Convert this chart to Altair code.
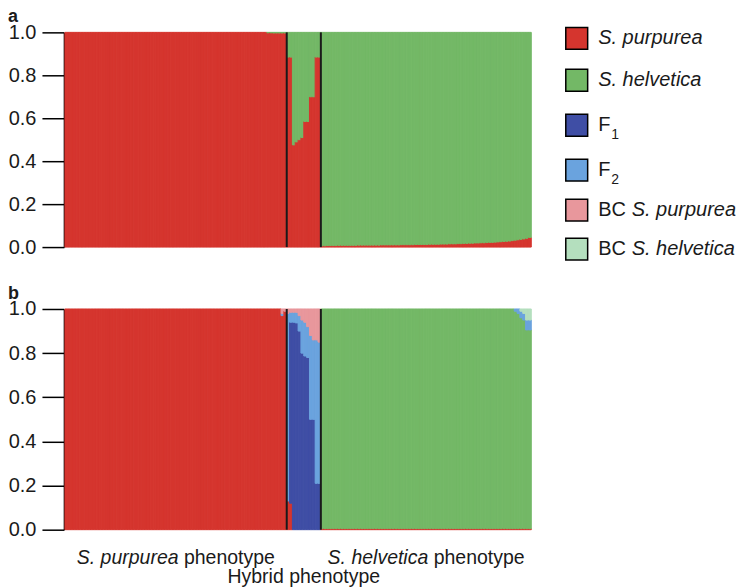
import altair as alt
import pandas as pd

# ---------------- data ----------------
categories = ["S. purpurea", "S. helvetica", "F1", "F2", "BC S. purpurea", "BC S. helvetica"]
colors = ["#D5352E", "#73B866", "#3F4EA5", "#6AA3DE", "#E8979C", "#B4DFBE"]

n_left, n_hybrid, n_right = 78, 12, 74
group_bounds = [78, 90]

# Panel a: proportion S. purpurea ancestry (rest is S. helvetica)
a_left_purpurea = [
    1.0, 1.0, 1.0, 1.0, 1.0, 1.0, 1.0, 1.0, 1.0, 1.0, 1.0, 1.0, 1.0,
    1.0, 1.0, 1.0, 1.0, 1.0, 1.0, 1.0, 1.0, 1.0, 1.0, 1.0, 1.0, 1.0,
    1.0, 1.0, 1.0, 1.0, 1.0, 1.0, 1.0, 1.0, 1.0, 1.0, 1.0, 1.0, 1.0,
    1.0, 1.0, 1.0, 1.0, 1.0, 1.0, 1.0, 1.0, 1.0, 1.0, 1.0, 1.0, 1.0,
    1.0, 1.0, 1.0, 1.0, 1.0, 1.0, 1.0, 1.0, 1.0, 1.0, 1.0, 1.0, 1.0,
    1.0, 1.0, 1.0, 1.0, 1.0, 1.0, 0.998, 0.998, 0.997, 0.997, 0.997, 0.997, 0.997,
]
a_hybrid_purpurea = [0.885, 0.885, 0.476, 0.49, 0.50, 0.51, 0.585, 0.585, 0.70, 0.70, 0.885, 0.885]
a_right_purpurea = [
    0.006, 0.006, 0.007, 0.007, 0.007, 0.007, 0.008, 0.008, 0.008, 0.008,
    0.008, 0.008, 0.008, 0.009, 0.009, 0.009, 0.009, 0.009, 0.009, 0.009,
    0.009, 0.010, 0.010, 0.010, 0.010, 0.010, 0.010, 0.010, 0.011, 0.011,
    0.011, 0.011, 0.011, 0.012, 0.012, 0.012, 0.012, 0.012, 0.013, 0.013,
    0.013, 0.013, 0.014, 0.014, 0.014, 0.015, 0.015, 0.015, 0.016, 0.016,
    0.017, 0.017, 0.018, 0.018, 0.019, 0.019, 0.020, 0.020, 0.021, 0.022,
    0.022, 0.023, 0.024, 0.025, 0.026, 0.027, 0.028, 0.030, 0.032, 0.034,
    0.036, 0.038, 0.041, 0.045,
]

# Panel b: hybrid class probabilities
b_left_purpurea = [
    1.0, 1.0, 1.0, 1.0, 1.0, 1.0, 1.0, 1.0, 1.0, 1.0, 1.0, 1.0, 1.0,
    1.0, 1.0, 1.0, 1.0, 1.0, 1.0, 1.0, 1.0, 1.0, 1.0, 1.0, 1.0, 1.0,
    1.0, 1.0, 1.0, 1.0, 1.0, 1.0, 1.0, 1.0, 1.0, 1.0, 1.0, 1.0, 1.0,
    1.0, 1.0, 1.0, 1.0, 1.0, 1.0, 1.0, 1.0, 1.0, 1.0, 1.0, 1.0, 1.0,
    1.0, 1.0, 1.0, 1.0, 1.0, 1.0, 1.0, 1.0, 1.0, 1.0, 1.0, 1.0, 1.0,
    1.0, 1.0, 1.0, 1.0, 1.0, 1.0, 1.0, 1.0, 1.0, 1.0, 1.0, 0.97, 0.99,
]
b_left_f2 = [0.0] * 76 + [0.01, 0.0]
b_left_bc_purpurea = [0.0] * 76 + [0.02, 0.01]

b_hybrid_purpurea = [0.13, 0.12, 0.0, 0.0, 0.0, 0.0, 0.0, 0.0, 0.0, 0.0, 0.0, 0.0]
b_hybrid_f1 = [0.0, 0.82, 0.94, 0.937, 0.90, 0.80, 0.787, 0.78, 0.50, 0.50, 0.21, 0.21]
b_hybrid_f2 = [0.85, 0.045, 0.045, 0.048, 0.07, 0.15, 0.153, 0.14, 0.38, 0.36, 0.65, 0.64]
b_hybrid_bc_purpurea = [0.02, 0.015, 0.015, 0.015, 0.03, 0.05, 0.06, 0.08, 0.12, 0.14, 0.14, 0.15]

b_right_purpurea = [0.005] * 74
b_right_f2 = [0.0] * 68 + [0.01, 0.02, 0.03, 0.03, 0.045, 0.045]
b_right_bc_helvetica = [0.0] * 68 + [0.0, 0.0, 0.01, 0.02, 0.05, 0.05]

# ---------------- build tables ----------------
N = n_left + n_hybrid + n_right


def stack_rows(values_by_cat):
    rows = []
    for i in range(N):
        base = 0.0
        for cat in categories:
            v = values_by_cat[cat][i]
            if v > 0:
                rows.append({"x0": float(i), "x1": float(i + 1), "y0": base, "y1": base + v, "cat": cat})
                base += v
    return pd.DataFrame(rows)


def zeros(n):
    return [0.0] * n


a_purp = a_left_purpurea + a_hybrid_purpurea + a_right_purpurea
a_vals = {c: zeros(N) for c in categories}
a_vals["S. purpurea"] = a_purp
a_vals["S. helvetica"] = [1 - v for v in a_purp]
df_a = stack_rows(a_vals)

b_vals = {
    "S. purpurea": b_left_purpurea + b_hybrid_purpurea + b_right_purpurea,
    "F1": zeros(n_left) + b_hybrid_f1 + zeros(n_right),
    "F2": b_left_f2 + b_hybrid_f2 + b_right_f2,
    "BC S. purpurea": b_left_bc_purpurea + b_hybrid_bc_purpurea + zeros(n_right),
    "BC S. helvetica": zeros(n_left) + zeros(n_hybrid) + b_right_bc_helvetica,
}
b_vals["S. helvetica"] = [max(0.0, 1 - sum(b_vals[c][i] for c in b_vals)) for i in range(N)]
df_b = stack_rows(b_vals)

sep_df = pd.DataFrame({"pos": [float(v) for v in group_bounds]})
start_df = pd.DataFrame({"start": [0.0]})

FONT = "Liberation Sans"
TXT = "#1a1a1a"

PW, HA, HB = 467, 215, 221
xscale = alt.Scale(domain=[0, N], nice=False, zero=False)
cscale = alt.Scale(domain=categories, range=colors)


def panel(df, label):
    bars = alt.Chart(df).mark_rect(strokeWidth=1.0).encode(
        x=alt.X("x0:Q", scale=xscale, axis=None),
        x2="x1:Q",
        y=alt.Y(
            "y0:Q",
            scale=alt.Scale(domain=[0, 1], nice=False),
            axis=alt.Axis(
                title=None, values=[0, 0.2, 0.4, 0.6, 0.8, 1.0], format=".1f",
                tickSize=22, tickWidth=1.5, tickColor="black",
                domainColor="black", domainWidth=1.5, offset=1,
                labelFontSize=20, labelFont=FONT, labelColor=TXT, labelPadding=6,
                grid=False,
            ),
        ),
        y2="y1:Q",
        color=alt.Color("cat:N", scale=cscale, legend=None),
        stroke=alt.Stroke("cat:N", scale=cscale, legend=None),
    )
    seps = alt.Chart(sep_df).mark_rule(color="#1a1a1a", strokeWidth=2).encode(
        x=alt.X("pos:Q", scale=xscale, axis=None))
    tag = alt.Chart(start_df).mark_text(
        text=label, align="left", baseline="middle", fontSize=18, fontWeight="bold",
        font=FONT, color=TXT, dx=-57
    ).encode(x=alt.X("start:Q", scale=xscale, axis=None), y=alt.value(-15))
    return [bars, seps, tag]


# ---------- panel a ----------
chart_a = alt.layer(*panel(df_a, "a")).properties(width=PW, height=HA)

# ---------- legend (own chart, pixel-like scales) ----------
LW = 206
leg_boxes = pd.DataFrame({"cat": categories, "cy": [6.0, 48.0, 93.0, 138.0, 178.0, 217.0]})
leg_text = pd.DataFrame({
    "txt": ["S. purpurea", "S. helvetica", "F", "1", "F", "2", "BC", "S. purpurea", "BC", "S. helvetica"],
    "tx": [66.0, 66.0, 66.0, 79.0, 66.0, 79.0, 66.0, 99.5, 66.0, 99.5],
    "ty": [6.0, 48.0, 93.0, 103.0, 138.0, 148.0, 178.0, 178.0, 217.0, 217.0],
    "style": ["it", "it", "n", "sub", "n", "sub", "n", "it", "n", "it"],
})
lx = alt.Scale(domain=[0, LW], nice=False, zero=False)
ly = alt.Scale(domain=[0, HA], nice=False, zero=False, reverse=True)

leg_sq = alt.Chart(leg_boxes).mark_square(size=480, opacity=1, filled=True, stroke="black",
                                          strokeWidth=1.5).encode(
    x=alt.value(44.5),
    y=alt.Y("cy:Q", scale=ly, axis=None),
    color=alt.Color("cat:N", scale=cscale, legend=None),
)
leg_layers = [leg_sq]
for style, size, fstyle in [("it", 20, "italic"), ("n", 20, "normal"), ("sub", 14, "normal")]:
    leg_layers.append(
        alt.Chart(leg_text).transform_filter(alt.datum.style == style).mark_text(
            align="left", baseline="middle", fontSize=size, fontStyle=fstyle, font=FONT, color=TXT
        ).encode(
            x=alt.X("tx:Q", scale=lx, axis=None),
            y=alt.Y("ty:Q", scale=ly, axis=None),
            text="txt:N",
        )
    )
legend = alt.layer(*leg_layers).properties(width=LW, height=HA)

top = alt.hconcat(chart_a, legend, spacing=0)

# ---------- panel b with group labels ----------
group_label_df = pd.DataFrame({
    "center": [n_left / 2, n_left + n_hybrid + n_right / 2, n_left + n_hybrid / 2],
    "which": ["purpurea", "helvetica", "hybrid"],
})
xs = alt.X("center:Q", scale=xscale, axis=None)
LABEL_Y = 249
layers_b = panel(df_b, "b")
for which, species, dx_it, dx_n in [("purpurea", "S. purpurea", 2.75, 8.15),
                                    ("helvetica", "S. helvetica", 2.2, 7.6)]:
    base = alt.Chart(group_label_df).transform_filter(alt.datum.which == which)
    layers_b.append(
        base.mark_text(text=species, align="right", baseline="middle", fontSize=19.5,
                       fontStyle="italic", font=FONT, color=TXT, dx=dx_it).encode(
            x=xs, y=alt.value(LABEL_Y))
    )
    layers_b.append(
        base.mark_text(text="phenotype", align="left", baseline="middle", fontSize=19.5,
                       font=FONT, color=TXT, dx=dx_n).encode(x=xs, y=alt.value(LABEL_Y))
    )
layers_b.append(
    alt.Chart(group_label_df).transform_filter(alt.datum.which == "hybrid").mark_text(
        text="Hybrid phenotype", align="center", baseline="middle", fontSize=19.5, font=FONT,
        color=TXT).encode(x=xs, y=alt.value(LABEL_Y + 19))
)
chart_b = alt.layer(*layers_b).properties(width=PW, height=HB)

chart = alt.vconcat(top, chart_b, spacing=22).configure_view(stroke=None).properties(padding=0)

chart.save("out.html", embed_options={"renderer": "svg", "actions": False})
